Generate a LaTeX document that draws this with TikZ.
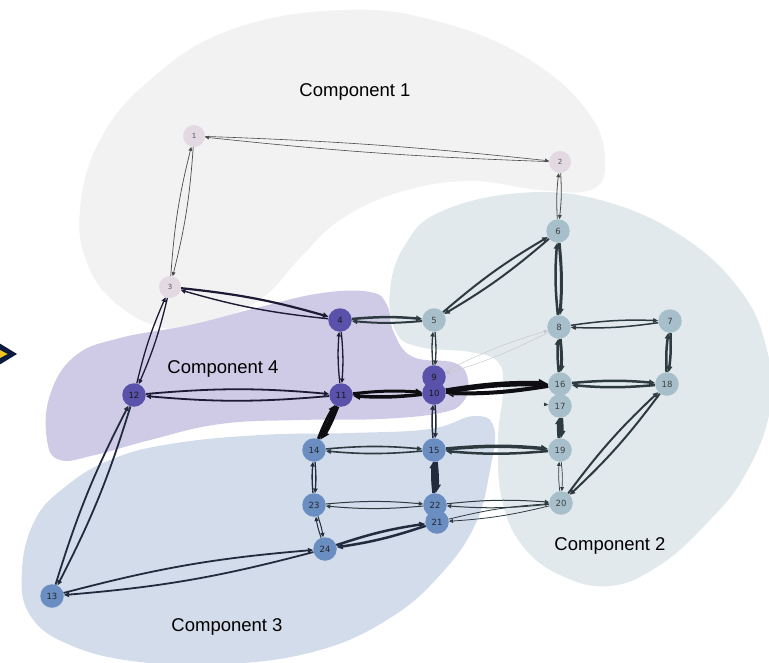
\documentclass[tikz,border=0pt]{standalone}
\usepackage{fontspec}
\setmainfont{Liberation Sans}
\newfontfamily\numfont{DejaVu Sans}
\usetikzlibrary{arrows.meta}
\pgfdeclarelayer{bg}
\pgfdeclarelayer{edgelayer}
\pgfsetlayers{bg,edgelayer,main}
\definecolor{bA}{HTML}{F2F2F2}
\definecolor{bB}{HTML}{E1E9ED}
\definecolor{bC}{HTML}{D3DCEA}
\definecolor{bD}{HTML}{CFCBE6}
\definecolor{nA}{HTML}{E3D9E3}
\definecolor{nB}{HTML}{A7BFCA}
\definecolor{nC}{HTML}{6A8EC2}
\definecolor{nD}{HTML}{5A51AA}
\definecolor{gc}{HTML}{4A4A4A}
\definecolor{sc}{HTML}{2D3A40}
\definecolor{nc}{HTML}{1D1A35}
\definecolor{bc}{HTML}{222B3E}
\definecolor{kc}{HTML}{0D0D12}
\definecolor{lc}{HTML}{BFC4C7}
\definecolor{chevN}{HTML}{0D1B3E}
\definecolor{chevY}{HTML}{F5C518}
\tikzset{
  nd/.style={circle,inner sep=0pt,minimum size=23.5pt,font=\numfont\fontsize{8.5}{9}\selectfont},
  ndA/.style={nd,fill=nA,text=black!65,minimum size=22pt,font=\numfont\fontsize{7}{8}\selectfont},
  ndB/.style={nd,fill=nB,text=black!75},
  ndC/.style={nd,fill=nC,text=black!85},
  ndD/.style={nd,fill=nD,text=black!90},
  e/.style={-{Triangle[length=3.2pt 1.1,width=2.9pt 1.1]},bend left=5},
  lab/.style={font=\fontsize{18.5}{20}\selectfont,text=black}
}
\begin{document}
\begin{tikzpicture}[x=1pt,y=-1pt]
\useasboundingbox (0,0) rectangle (769,662);
\begin{pgfonlayer}{bg}
\fill[white] (0,0) rectangle (769,662);
% Component 1
\fill[bA] plot[smooth cycle,tension=0.7] coordinates {(343,10) (440,22) (530,60) (590,115) (605,165) (590,190) (540,190) (470,181) (400,192) (340,220) (300,258) (262,298) (210,322) (165,328) (118,305) (88,265) (80,210) (100,140) (150,80) (230,30)};
% Component 2
\fill[bB] plot[smooth cycle,tension=0.7] coordinates {(520,193) (600,200) (680,235) (740,290) (767,350) (770,410) (745,475) (707,523) (660,565) (610,586) (560,575) (522,545) (502,500) (498,440) (503,390) (498,362) (470,352) (420,347) (396,332) (390,290) (405,245) (440,212)};
% Component 3
\fill[bC] plot[smooth cycle,tension=0.7] coordinates {(494,428) (490,470) (475,525) (440,575) (390,618) (320,650) (230,664) (140,662) (70,645) (30,615) (22,570) (35,520) (65,487) (110,460) (170,444) (260,435) (350,433) (430,429) (474,416)};
% Component 4
\fill[bD] plot[smooth cycle,tension=0.7] coordinates {(370,292) (387,305) (394,333) (413,357) (455,363) (468,380) (463,402) (440,413) (380,419) (300,420) (220,424) (150,440) (95,455) (60,460) (47,440) (50,395) (75,356) (120,338) (190,325) (260,307) (322,293)};
% chevron at the left edge
\fill[chevN] (-1,343) -- (17,354) -- (-1,365) -- cycle;
\fill[chevY] (-1,349.5) -- (7.5,354) -- (-1,358.5) -- cycle;
\end{pgfonlayer}
% labels
\node[lab] (t1) at (355,92) {Component 1};
\node[lab] (t4) at (223,369) {Component 4};
\node[lab] (t2) at (610,546) {Component 2};
\node[lab] (t3) at (227,627) {Component 3};
% nodes
\node[ndA] (n1) at (194,136) {1};
\node[ndA] (n2) at (560,162) {2};
\node[ndA] (n3) at (170,287) {3};
\node[ndD] (n4) at (340,320) {4};
\node[ndB] (n5) at (434,320) {5};
\node[ndB] (n6) at (558,231) {6};
\node[ndB] (n7) at (670,321) {7};
\node[ndB] (n8) at (559,327) {8};
\node[ndD] (n9) at (434,377) {9};
\node[ndD] (n10) at (434,393) {10};
\node[ndD] (n11) at (341,395) {11};
\node[ndD] (n12) at (134,395) {12};
\node[ndC] (n13) at (52,596) {13};
\node[ndC] (n14) at (314,450) {14};
\node[ndC] (n15) at (434,450) {15};
\node[ndB] (n16) at (560,384) {16};
\node[ndB] (n17) at (560,406) {17};
\node[ndB] (n18) at (667,384) {18};
\node[ndB] (n19) at (560,450) {19};
\node[ndB] (n20) at (561,503) {20};
\node[ndC] (n22) at (435,505) {22};
\node[ndC] (n21) at (437,522) {21};
\node[ndC] (n23) at (314,505) {23};
\node[ndC] (n24) at (325,549) {24};
\begin{pgfonlayer}{edgelayer}
\draw[e,bend left=2,line width=0.6pt,gc] (n1) to (n2);
\draw[e,bend left=2,line width=0.6pt,gc] (n2) to (n1);
\foreach \a/\b/\w/\c in {
  1/3/0.7/gc, 3/1/0.7/gc, 2/6/0.8/gc, 6/2/0.8/gc,
  3/4/2.2/nc, 4/3/1.4/nc, 3/12/1.3/nc, 12/3/1.3/nc,
  4/5/2.5/sc, 5/4/2.0/sc, 4/11/1.3/nc, 11/4/1.3/nc,
  5/6/2.0/sc, 6/5/2.0/sc, 5/9/1.3/sc, 9/5/1.3/sc,
  6/8/3.0/sc, 8/6/2.5/sc, 8/7/1.5/sc, 7/8/1.5/sc,
  7/18/2.5/sc, 18/7/2.5/sc, 8/16/3.0/sc, 16/8/2.5/sc,
  16/18/2.5/sc, 18/16/2.5/sc, 8/9/0.4/lc, 9/8/0.4/lc,
  10/16/5.5/kc, 16/10/4.0/kc, 10/11/3.5/kc, 11/10/3.0/kc,
  11/12/1.8/nc, 12/11/1.8/nc, 11/14/5.5/kc, 14/11/3.0/kc,
  12/13/1.8/bc, 13/12/1.8/bc, 13/24/1.8/bc, 24/13/1.8/bc,
  10/15/1.5/bc, 15/10/1.5/bc, 14/15/1.6/sc, 15/14/1.6/sc,
  15/19/3.5/sc, 19/15/2.5/sc, 15/22/5.0/bc, 22/15/3.0/bc,
  14/23/1.3/bc, 23/14/1.3/bc, 23/22/1.0/sc, 22/23/1.0/sc,
  23/24/1.0/bc, 24/23/1.0/bc, 24/21/2.5/bc, 21/24/2.5/bc,
  22/20/1.0/sc, 20/22/1.0/sc, 21/20/0.8/sc, 20/21/0.8/sc,
  19/20/0.7/sc, 20/19/0.7/sc, 20/18/2.0/sc, 18/20/2.0/sc,
  17/19/4.0/sc, 19/17/3.0/sc}
  \draw[e,line width=\w pt,\c] (n\a) to (n\b);
\draw[-{Triangle[length=4pt,width=3.5pt,color=sc]},line width=0.05pt,draw=bB] (n10) to (n17);
\end{pgfonlayer}
\end{tikzpicture}
\end{document}
